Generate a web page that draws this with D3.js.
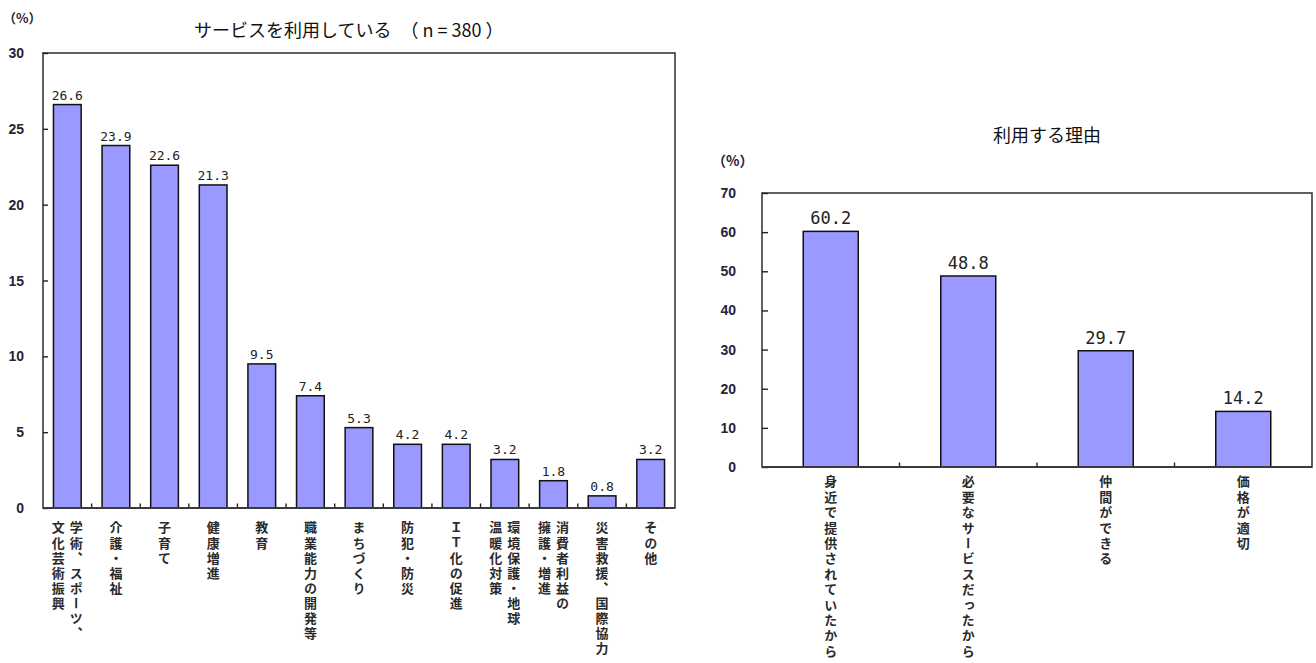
<!DOCTYPE html>
<html lang="ja">
<head>
<meta charset="utf-8">
<script src="https://cdn.jsdelivr.net/npm/d3@7"></script>
<style>
  html, body { margin: 0; padding: 0; background: #fff; }
  svg { display: block; }
</style>
</head>
<body>
<div id="chart"></div>
<script>
// Services used (n = 380), percent of respondents
const usageCategories = [
  "学術、スポーツ、\n文化芸術振興",
  "介護・福祉",
  "子育て",
  "健康増進",
  "教育",
  "職業能力の開発等",
  "まちづくり",
  "防犯・防災",
  "ＩＴ化の促進",
  "環境保護・地球\n温暖化対策",
  "消費者利益の\n擁護・増進",
  "災害救援、国際協力",
  "その他"
];
const usageValues = [26.6, 23.9, 22.6, 21.3, 9.5, 7.4, 5.3, 4.2, 4.2, 3.2, 1.8, 0.8, 3.2];
const usageTicks = [0, 5, 10, 15, 20, 25, 30];

// Reasons for using the services, percent
const reasonCategories = [
  "身近で提供されていたから",
  "必要なサービスだったから",
  "仲間ができる",
  "価格が適切"
];
const reasonValues = [60.2, 48.8, 29.7, 14.2];
const reasonTicks = [0, 10, 20, 30, 40, 50, 60, 70];

const W = 1316, H = 663;
const svg = d3.select("#chart").append("svg")
  .attr("width", W).attr("height", H)
  .attr("viewBox", `0 0 ${W} ${H}`);

const JP = "'Noto Sans CJK JP', 'Noto Sans', sans-serif";
const fmt = d3.format(".1f");

function barChart(o) {
  const g = svg.append("g");
  const x = d3.scaleBand()
    .domain(o.categories)
    .range([o.left, o.right])
    .paddingInner(o.pad)
    .paddingOuter(o.pad / 2);
  const y = d3.scaleLinear()
    .domain([0, d3.max(o.ticks)])
    .range([o.bottom, o.top]);

  // plot frame
  g.append("rect")
    .attr("x", o.left).attr("y", o.top)
    .attr("width", o.right - o.left).attr("height", o.bottom - o.top)
    .attr("fill", "none").attr("stroke", "#3a3a3a").attr("stroke-width", 1.6);

  // y axis (ticks point into the plot)
  const yAxis = g.append("g")
    .attr("transform", `translate(${o.left},0)`)
    .call(d3.axisRight(y).tickValues(o.ticks).tickSize(o.yTick).tickFormat(""));
  yAxis.select(".domain").remove();
  yAxis.selectAll("line").attr("stroke", "#222").attr("stroke-width", 1.4);

  g.selectAll(".ylab").data(o.ticks).join("text")
    .attr("class", "ylab")
    .attr("x", o.yLabelX)
    .attr("y", d => y(d))
    .attr("dy", "0.36em")
    .attr("text-anchor", "end")
    .attr("font-family", "'Liberation Sans', Arial, sans-serif")
    .attr("font-weight", "bold")
    .attr("font-size", o.yFont)
    .attr("fill", "#2a2238")
    .text(d => d);

  // category separators on the baseline
  const step = x.step();
  const seps = d3.range(1, o.categories.length).map(i => o.left + i * step);
  g.selectAll(".sep").data(seps).join("line")
    .attr("class", "sep")
    .attr("x1", d => d).attr("x2", d => d)
    .attr("y1", o.bottom).attr("y2", o.bottom - 4.5)
    .attr("stroke", "#222").attr("stroke-width", 1.4);

  // bars
  const data = o.categories.map((c, i) => ({ c, v: o.values[i] }));
  g.selectAll(".bar").data(data).join("rect")
    .attr("class", "bar")
    .attr("x", d => x(d.c))
    .attr("y", d => y(d.v))
    .attr("width", x.bandwidth())
    .attr("height", d => o.bottom - y(d.v))
    .attr("fill", "#9999ff")
    .attr("stroke", "#111")
    .attr("stroke-width", 1.5);

  // value labels
  g.selectAll(".val").data(data).join("text")
    .attr("class", "val")
    .attr("x", d => x(d.c) + x.bandwidth() / 2)
    .attr("y", d => y(d.v) - o.valGap)
    .attr("text-anchor", "middle")
    .attr("font-family", "'DejaVu Sans Mono', monospace")
    .attr("font-size", o.valFont)
    .attr("fill", "#222")
    .text(d => fmt(d.v));

  // bottom axis line drawn over bars
  g.append("line")
    .attr("x1", o.left).attr("x2", o.right)
    .attr("y1", o.bottom).attr("y2", o.bottom)
    .attr("stroke", "#3a3a3a").attr("stroke-width", 1.8);

  // vertical category labels, one column per line, first line on the right
  data.forEach(d => {
    const lines = d.c.split("\n");
    const cx = x(d.c) + x.bandwidth() / 2;
    lines.forEach((line, j) => {
      const off = (lines.length - 1) / 2 * o.colGap - j * o.colGap;
      g.append("text")
        .attr("x", cx + off)
        .attr("y", o.bottom + o.labelGap)
        .style("writing-mode", "vertical-rl")
        .style("letter-spacing", o.letterSp + "px")
        .attr("font-family", JP)
        .attr("font-weight", "bold")
        .attr("font-size", o.labelFont)
        .attr("fill", "#2a2a2a")
        .text(line);
    });
  });

  // unit label
  g.append("text")
    .attr("x", o.unitX).attr("y", o.unitY)
    .attr("font-family", JP)
    .attr("font-weight", "bold")
    .attr("font-size", o.unitFont)
    .attr("fill", "#2a2238")
    .text("（%）");

  // title
  g.append("text")
    .attr("x", o.titleX).attr("y", o.titleY)
    .attr("text-anchor", o.titleAnchor)
    .attr("font-family", JP)
    .attr("font-size", 18)
    .attr("fill", "#111")
    .text(o.title);
}

barChart({
  categories: usageCategories, values: usageValues, ticks: usageTicks,
  left: 43, right: 675, top: 53, bottom: 508, pad: 0.43,
  yTick: 5, yLabelX: 24, yFont: 14,
  valFont: 13, valGap: 5,
  labelFont: 13, letterSp: 2.1, labelGap: 13, colGap: 18,
  unitX: 3, unitY: 23, unitFont: 13,
  title: "サービスを利用している　（ n = 380 ）", titleX: 194, titleY: 37, titleAnchor: "start"
});

barChart({
  categories: reasonCategories, values: reasonValues, ticks: reasonTicks,
  left: 762, right: 1312, top: 193, bottom: 467, pad: 0.6,
  yTick: 6, yLabelX: 736, yFont: 14,
  valFont: 17, valGap: 7,
  labelFont: 13, letterSp: 2.4, labelGap: 8, colGap: 18,
  unitX: 712, unitY: 166, unitFont: 14,
  title: "利用する理由", titleX: 1047, titleY: 142, titleAnchor: "middle"
});
</script>
</body>
</html>
